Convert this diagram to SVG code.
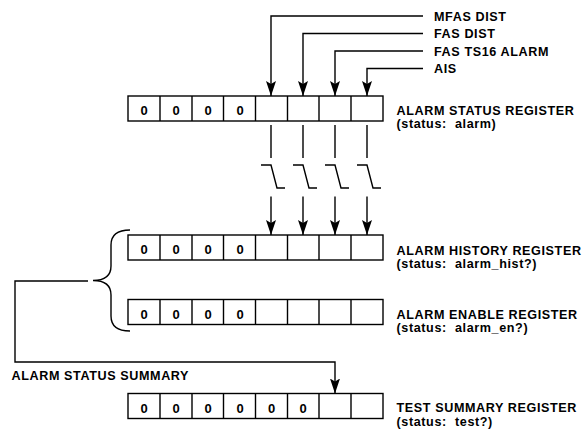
<svg xmlns="http://www.w3.org/2000/svg" width="584" height="434" viewBox="0 0 584 434">
<style>
.cell{fill:#fff;stroke:#000;stroke-width:1.4}
.ln{fill:none;stroke:#000;stroke-width:1.4}
.t{font-family:"Liberation Sans",Arial,sans-serif;font-weight:bold;font-size:12.6px;letter-spacing:0.6px;fill:#000;white-space:pre}
.z{font-family:"Liberation Sans",Arial,sans-serif;font-weight:bold;font-size:13px;fill:#000;text-anchor:middle}
</style>
<defs>
<marker id="arr" markerUnits="userSpaceOnUse" markerWidth="15" markerHeight="10" viewBox="0 -5 15 10" refX="15" refY="0" orient="auto">
<path d="M0,-5 L15,0 L0,5 L3,0 Z" fill="#000"/>
</marker>
<g id="cells8">
<rect class="cell" x="128" y="0" width="255" height="25"/>
<path class="ln" d="M160,0V25M192,0V25M223.5,0V25M255.5,0V25M287.5,0V25M319,0V25M351,0V25"/>
</g>
</defs>

<g id="status-register">
<use href="#cells8" y="96"/>
<text class="z" x="144" y="115">0</text><text class="z" x="176" y="115">0</text><text class="z" x="208" y="115">0</text><text class="z" x="240" y="115">0</text>
<text class="t" x="396.5" y="114.5">ALARM STATUS REGISTER</text>
<text class="t" x="396.5" y="127.5">(status:  alarm)</text>
</g>

<g id="history-register">
<use href="#cells8" y="235"/>
<text class="z" x="144" y="254">0</text><text class="z" x="176" y="254">0</text><text class="z" x="208" y="254">0</text><text class="z" x="240" y="254">0</text>
<text class="t" x="396.5" y="254.5">ALARM HISTORY REGISTER</text>
<text class="t" x="396.5" y="267.5">(status:  alarm_hist?)</text>
</g>

<g id="enable-register">
<use href="#cells8" y="299.5"/>
<text class="z" x="144" y="318.5">0</text><text class="z" x="176" y="318.5">0</text><text class="z" x="208" y="318.5">0</text><text class="z" x="240" y="318.5">0</text>
<text class="t" x="396.5" y="318.5">ALARM ENABLE REGISTER</text>
<text class="t" x="396.5" y="331.5">(status:  alarm_en?)</text>
</g>

<g id="test-register">
<use href="#cells8" y="393.5"/>
<text class="z" x="144" y="412.5">0</text><text class="z" x="176" y="412.5">0</text><text class="z" x="208" y="412.5">0</text><text class="z" x="240" y="412.5">0</text><text class="z" x="271.5" y="412.5">0</text><text class="z" x="303" y="412.5">0</text>
<text class="t" x="396.5" y="411.5">TEST SUMMARY REGISTER</text>
<text class="t" x="396.5" y="425.5">(status:  test?)</text>
</g>

<g id="signal-labels">
<text class="t" x="434" y="20.5">MFAS DIST</text>
<text class="t" x="434" y="38">FAS DIST</text>
<text class="t" x="434" y="55.5">FAS TS16 ALARM</text>
<text class="t" x="434" y="72.5">AIS</text>
<text class="t" x="11.5" y="380">ALARM STATUS SUMMARY</text>
</g>

<g id="connectors">
<path class="ln" d="M423,16H271V96" marker-end="url(#arr)"/>
<path class="ln" d="M423,33.5H303V96" marker-end="url(#arr)"/>
<path class="ln" d="M423,51H335V96" marker-end="url(#arr)"/>
<path class="ln" d="M423,68.5H367V96" marker-end="url(#arr)"/>
<path class="ln" d="M271,125V158M303,125V158M335,125V158M367,125V158"/>
<path class="ln" d="M261,165H271L277,188H285M293,165H303L309,188H317M325,165H335L341,188H349M357,165H367L373,188H381"/>
<path class="ln" d="M271,196.5V235" marker-end="url(#arr)"/>
<path class="ln" d="M303,196.5V235" marker-end="url(#arr)"/>
<path class="ln" d="M335,196.5V235" marker-end="url(#arr)"/>
<path class="ln" d="M367,196.5V235" marker-end="url(#arr)"/>
<path class="ln" d="M130,230C117,230 111,235 111,245L111,266C111,276 104,280.5 93,280.5C104,280.5 111,285 111,295L111,316C111,326 117,331 130,331"/>
<path class="ln" d="M88,281H15V362H335V393.5" marker-end="url(#arr)"/>
</g>
</svg>
